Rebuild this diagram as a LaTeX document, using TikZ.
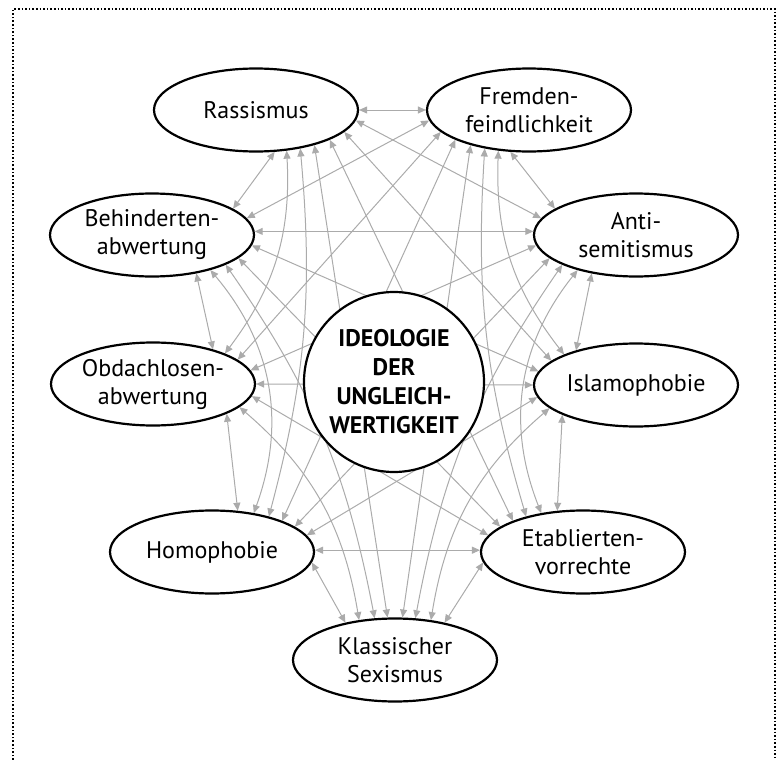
\documentclass[tikz,border=0pt]{standalone}
\usepackage{fontspec}
\setmainfont{PT Sans}
\usetikzlibrary{shapes.geometric,arrows.meta,backgrounds}
\tikzset{
every picture/.style={x=0.5pt,y=0.5pt},
topic/.style={ellipse, draw, line width=1.1pt, fill=white, minimum width=102pt,
  minimum height=41.5pt, inner sep=0pt, align=center, font=\fontsize{12}{14}\selectfont},
core/.style={circle, draw, line width=1.1pt, fill=white, minimum size=90pt,
  inner sep=0pt, align=center, font=\fontsize{12}{14.5}\selectfont\bfseries},
link/.style={{Triangle[length=4pt,width=3.5pt]}-{Triangle[length=4pt,width=3.5pt]},
  draw=black!33, line width=0.5pt},
frame/.style={line width=0.8pt, dash pattern=on 0.8pt off 1pt}
}

\begin{document}
\begin{tikzpicture}
      \useasboundingbox (0,0) rectangle (778,-760);
      \draw [frame] (13,-760) -- (13,-9) -- (775,-9) -- (775,-760);

      \node [topic] (rass) at (256,-110) {Rassismus};
      \node [topic] (frem) at (529,-110) {Fremden-\\feindlichkeit};
      \node [topic] (beh) at (152,-235) {Behinderten-\\abwertung};
      \node [topic] (anti) at (636,-235) {Anti-\\semitismus};
      \node [topic] (obd) at (153,-384) {Obdachlosen-\\abwertung};
      \node [topic] (islam) at (636,-385) {Islamophobie};
      \node [topic] (homo) at (212,-552) {Homophobie};
      \node [topic] (etab) at (583,-552) {Etablierten-\\vorrechte};
      \node [topic] (sex) at (395,-660) {Klassischer\\Sexismus};
      \node [core] (ideo) at (394,-382) {IDEOLOGIE\\DER\\UNGLEICH-\\WERTIGKEIT};

      \begin{scope}[on background layer]
      % Rassismus
      \draw [link] (rass.0) -- (frem.180);
      \draw [link] (rass.-6) -- (anti.170);
      \draw [link] (rass.-14) -- (islam.164);
      \draw [link] (rass.-22) -- (etab.156);
      \draw [link] (rass.-31) -- (sex.100);
      \draw [link] (rass.-41) to [bend left=10] (homo.32);
      \draw [link] (rass.-53) to [bend left=20] (obd.23);
      \draw [link] (rass.-66) -- (beh.18);
      % Fremdenfeindlichkeit
      \draw [link] (frem.186) -- (beh.10);
      \draw [link] (frem.194) -- (obd.16);
      \draw [link] (frem.202) -- (homo.24);
      \draw [link] (frem.211) -- (sex.80);
      \draw [link] (frem.221) to [bend right=10] (etab.148);
      \draw [link] (frem.233) to [bend right=20] (islam.157);
      \draw [link] (frem.246) -- (anti.162);
      % Behindertenabwertung
      \draw [link] (beh.2) -- (anti.178);
      \draw [link] (beh.-6) -- (islam.172);
      \draw [link] (beh.-15) -- (etab.163);
      \draw [link] (beh.-22) to [bend left=12] (sex.116);
      \draw [link] (beh.-31) to [bend left=30] (homo.43);
      \draw [link] (beh.-41) -- (obd.30);
      % Antisemitismus
      \draw [link] (anti.186) -- (obd.8);
      \draw [link] (anti.195) -- (homo.17);
      \draw [link] (anti.202) to [bend right=12] (sex.64);
      \draw [link] (anti.211) to [bend right=30] (etab.137);
      \draw [link] (anti.221) -- (islam.150);
      % Obdachlosenabwertung
      \draw [link] (obd.0) -- (islam.180);
      \draw [link] (obd.-7) -- (etab.170);
      \draw [link] (obd.-15) to [bend left=20] (sex.132);
      \draw [link] (obd.-22) -- (homo.58);
      % Islamophobie
      \draw [link] (islam.187) -- (homo.10);
      \draw [link] (islam.195) to [bend right=20] (sex.48);
      \draw [link] (islam.202) -- (etab.122);
      % unten
      \draw [link] (homo.1) -- (etab.179);
      \draw [link] (homo.-6) -- (sex.143);
      \draw [link] (etab.186) -- (sex.37);
      \end{scope}
\end{tikzpicture}
\end{document}
